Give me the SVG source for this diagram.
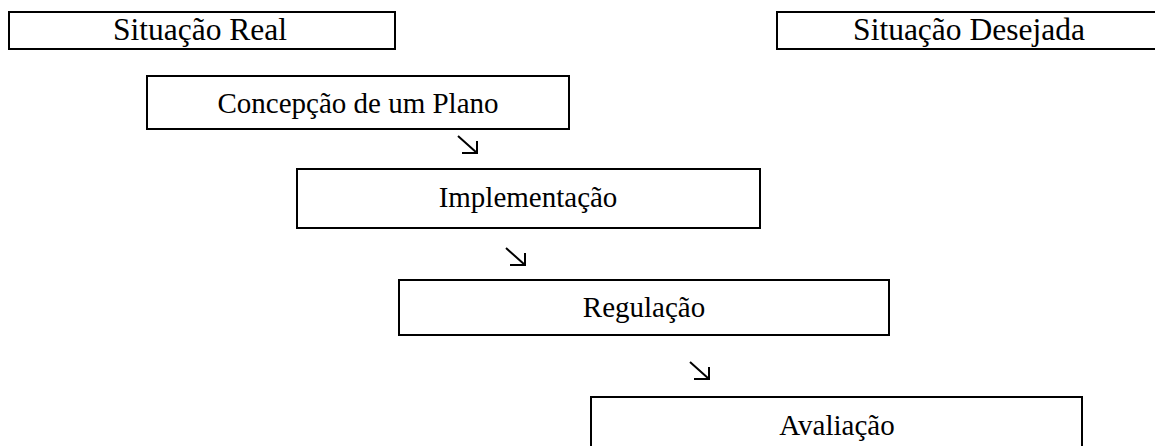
<svg xmlns="http://www.w3.org/2000/svg" width="1155" height="446" viewBox="0 0 1155 446">
<style>
.box{fill:#fff;stroke:#000;stroke-width:2}
.lbl{font-family:"Liberation Serif","Times New Roman",serif;font-size:29px;fill:#000;text-anchor:middle}
.top{font-size:31.5px}
.arr{fill:none;stroke:#000;stroke-width:2;stroke-linecap:butt}
</style>
<defs>
<path id="arrow" d="M0,0 L19,17 M4,17 H19 V5"/>
</defs>
<rect width="1155" height="446" fill="#fff"/>
<g id="n-real"><rect class="box" x="9" y="12" width="386" height="37"/><text class="lbl top" x="200" y="40">Situação Real</text></g>
<g id="n-desejada"><rect class="box" x="777" y="12" width="390" height="37"/><text class="lbl top" x="969" y="40">Situação Desejada</text></g>
<g id="n-concepcao"><rect class="box" x="147" y="76" width="422" height="53"/><text class="lbl" x="358" y="113">Concepção de um Plano</text></g>
<g id="n-implementacao"><rect class="box" x="297" y="169" width="463" height="59"/><text class="lbl" x="528" y="207">Implementação</text></g>
<g id="n-regulacao"><rect class="box" x="399" y="280" width="490" height="55"/><text class="lbl" x="644" y="317">Regulação</text></g>
<g id="n-avaliacao"><rect class="box" x="591" y="397" width="491" height="60"/><text class="lbl" x="837" y="435">Avaliação</text></g>
<g id="connectors" class="arr">
<use href="#arrow" x="458" y="136"/>
<use href="#arrow" x="506" y="248"/>
<use href="#arrow" x="690" y="362"/>
</g>
</svg>
